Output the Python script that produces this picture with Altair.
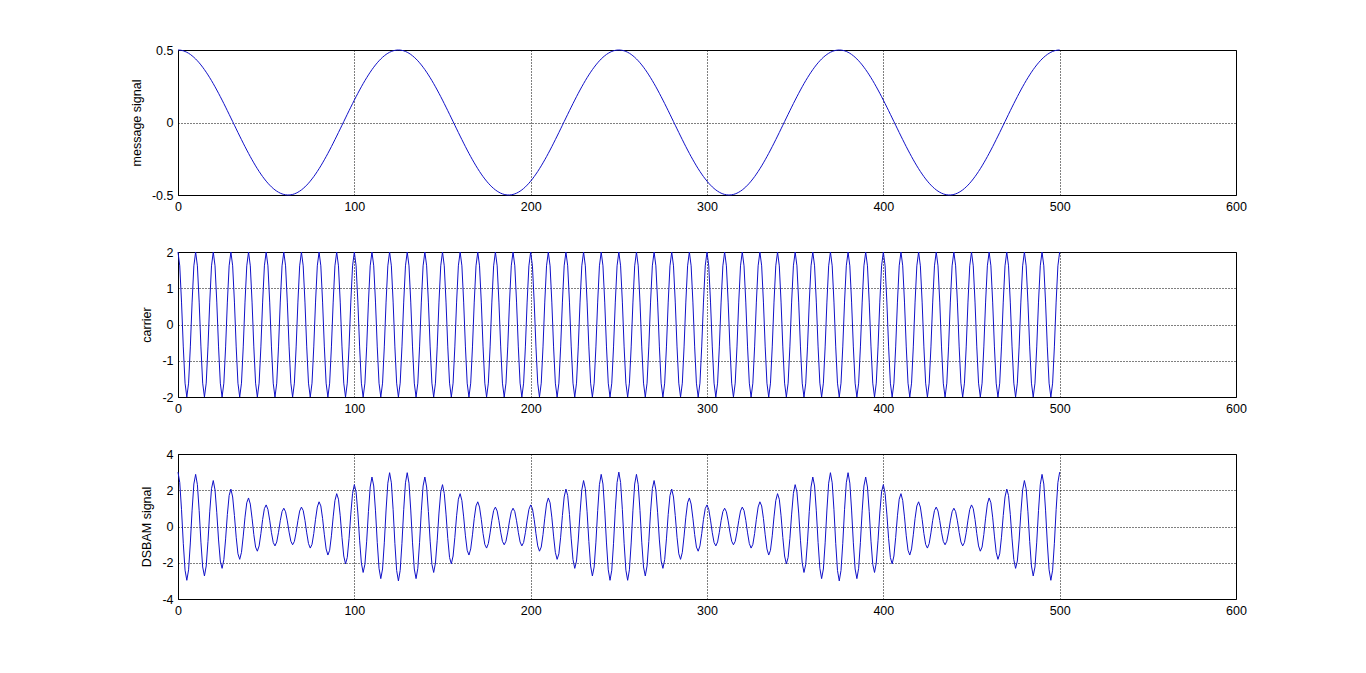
import altair as alt
import pandas as pd

# one period (125 samples) of the message signal
message_period = [
    0.5, 0.4994, 0.4975, 0.4943, 0.4899, 0.4843, 0.4774, 0.4694, 0.4601, 0.4497,
    0.4382, 0.4255, 0.4118, 0.3970, 0.3812, 0.3645, 0.3468, 0.3283, 0.3089, 0.2888,
    0.2679, 0.2464, 0.2242, 0.2015, 0.1782, 0.1545, 0.1304, 0.1060, 0.0813, 0.0564,
    0.0314, 0.0063, -0.0188, -0.0439, -0.0689, -0.0937, -0.1182, -0.1425, -0.1664, -0.1899,
    -0.2129, -0.2354, -0.2572, -0.2784, -0.2990, -0.3187, -0.3377, -0.3558, -0.3730, -0.3892,
    -0.4045, -0.4188, -0.4320, -0.4441, -0.4551, -0.4649, -0.4735, -0.4810, -0.4873, -0.4923,
    -0.4961, -0.4986, -0.4998, -0.4998, -0.4986, -0.4961, -0.4923, -0.4873, -0.4810, -0.4735,
    -0.4649, -0.4551, -0.4441, -0.4320, -0.4188, -0.4045, -0.3892, -0.3730, -0.3558, -0.3377,
    -0.3187, -0.2990, -0.2784, -0.2572, -0.2354, -0.2129, -0.1899, -0.1664, -0.1425, -0.1182,
    -0.0937, -0.0689, -0.0439, -0.0188, 0.0063, 0.0314, 0.0564, 0.0813, 0.1060, 0.1304,
    0.1545, 0.1782, 0.2015, 0.2242, 0.2464, 0.2679, 0.2888, 0.3089, 0.3283, 0.3468,
    0.3645, 0.3812, 0.3970, 0.4118, 0.4255, 0.4382, 0.4497, 0.4601, 0.4694, 0.4774,
    0.4843, 0.4899, 0.4943, 0.4975, 0.4994,
]
# one period (10 samples) of the carrier
carrier_period = [2.0, 1.618, 0.618, -0.618, -1.618, -2.0, -1.618, -0.618, 0.618, 1.618]

n_samples = 501
x_ticks = [0, 100, 200, 300, 400, 500, 600]
msg_ticks = [-0.5, 0, 0.5]
car_ticks = [-2, -1, 0, 1, 2]
dsb_ticks = [-4, -2, 0, 2, 4]

t = list(range(n_samples))
message = [message_period[i % len(message_period)] for i in t]
carrier = [carrier_period[i % len(carrier_period)] for i in t]
dsbam = [(1 + m) * c for m, c in zip(message, carrier)]

df = pd.DataFrame({"t": t, "message": message, "carrier": carrier, "dsbam": dsbam})

LABEL = "'' + datum.value"


def panel(field, title, ticks, dom):
    return alt.Chart(df).mark_line(color="#1010C8", strokeWidth=1).encode(
        x=alt.X("t:Q",
                scale=alt.Scale(domain=[0, 600], nice=False, zero=False),
                axis=alt.Axis(values=x_ticks, title=None, labelExpr=LABEL)),
        y=alt.Y(f"{field}:Q",
                scale=alt.Scale(domain=dom, nice=False, zero=False),
                axis=alt.Axis(values=ticks, title=title, labelExpr=LABEL)),
    ).properties(width=1058, height=145)


chart = alt.vconcat(
    panel("message", "message signal", msg_ticks, [-0.5, 0.5]),
    panel("carrier", "carrier", car_ticks, [-2, 2]),
    panel("dsbam", "DSBAM signal", dsb_ticks, [-4, 4]),
    spacing=57,
    bounds="flush",
).properties(
    padding={"left": 121, "top": 35, "right": 5, "bottom": 5}
).configure_view(
    stroke="black", strokeWidth=1
).configure_axis(
    grid=True, gridColor="black", gridDash=[1, 2], gridWidth=1, gridOpacity=1,
    domain=False, ticks=False,
    labelFont="Liberation Sans", labelFontSize=12.5, labelColor="black",
    labelPadding=5, labelFlush=False, labelOverlap=False,
    titleFont="Liberation Sans", titleFontSize=12.5, titleColor="black",
    titleFontWeight="normal", titlePadding=8,
)

chart.save("out.html", embed_options={"renderer": "svg", "actions": False})
